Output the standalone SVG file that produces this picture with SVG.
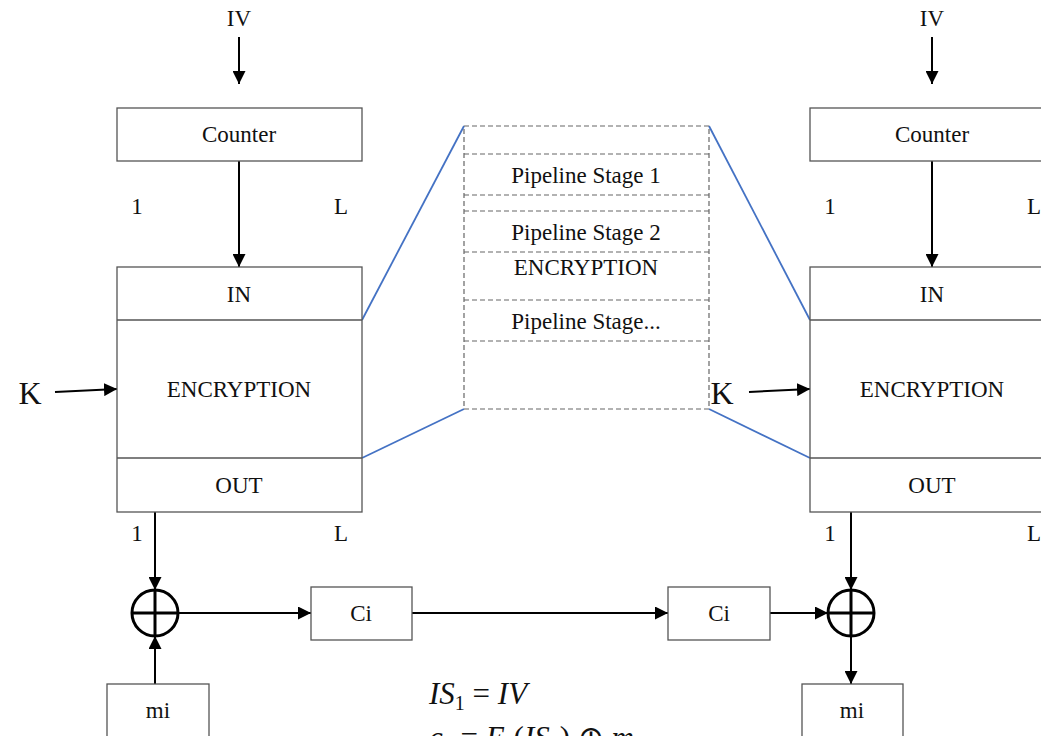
<svg xmlns="http://www.w3.org/2000/svg" width="1041" height="736" viewBox="0 0 1041 736">
<defs>
<style>
.box{fill:#fff;stroke:#555;stroke-width:1.3}
.t{font-family:"Liberation Serif","Times New Roman",serif;font-size:23px;fill:#111;text-anchor:middle;dominant-baseline:central}
.k{font-family:"Liberation Serif","Times New Roman",serif;font-size:32px;fill:#111;text-anchor:middle;dominant-baseline:central}
.eq{font-family:"Liberation Serif","Times New Roman",serif;font-style:italic;font-size:31px;fill:#111}
.ar{stroke:#000;stroke-width:2;fill:none;marker-end:url(#ah)}
.ln{stroke:#000;stroke-width:3;fill:none}
.dash{fill:none;stroke:#666;stroke-width:1.2;stroke-dasharray:5 3}
.blue{stroke:#4472C4;stroke-width:1.8;fill:none}
.xor{fill:#fff;stroke:#000;stroke-width:3}
</style>
<marker id="ah" viewBox="0 0 13 13" refX="13" refY="6.5" markerWidth="13" markerHeight="13" markerUnits="userSpaceOnUse" orient="auto">
<path d="M0,0 L13,6.5 L0,13 Z" fill="#000"/>
</marker>
</defs>
<rect width="1041" height="736" fill="#fff"/>

<g id="connectors">
<line class="ar" x1="239" y1="37" x2="239" y2="84"/>
<line class="ar" x1="239" y1="161" x2="239" y2="267"/>
<line class="ar" x1="55" y1="392" x2="117" y2="389"/>
<line class="ar" x1="155" y1="512" x2="155" y2="590"/>
<line class="ar" x1="155" y1="684" x2="155" y2="636"/>
<line class="ar" x1="178" y1="613" x2="311" y2="613"/>
<line class="ar" x1="412" y1="613" x2="668" y2="613"/>
<line class="ar" x1="770" y1="613" x2="828" y2="613"/>
<line class="ar" x1="932" y1="37" x2="932" y2="84"/>
<line class="ar" x1="932" y1="161" x2="932" y2="267"/>
<line class="ar" x1="749" y1="392" x2="810" y2="389"/>
<line class="ar" x1="851" y1="512" x2="851" y2="590"/>
<line class="ar" x1="851" y1="636" x2="851" y2="684"/>
<line class="blue" x1="362" y1="320" x2="464" y2="126"/>
<line class="blue" x1="362" y1="458" x2="464" y2="409"/>
<line class="blue" x1="709" y1="126" x2="810" y2="320"/>
<line class="blue" x1="709" y1="409" x2="810" y2="458"/>
</g>

<g id="iv-left"><text class="t" x="239" y="18">IV</text></g>
<g id="counter-left">
<rect class="box" x="117" y="108" width="245" height="53"/>
<text class="t" x="239" y="134">Counter</text>
</g>
<g id="labels-left">
<text class="t" x="137" y="206">1</text>
<text class="t" x="341" y="206">L</text>
<text class="t" x="137" y="533">1</text>
<text class="t" x="341" y="533">L</text>
</g>
<g id="enc-left">
<rect class="box" x="117" y="267" width="245" height="245"/>
<line class="box" x1="117" y1="320" x2="362" y2="320"/>
<line class="box" x1="117" y1="458" x2="362" y2="458"/>
<text class="t" x="239" y="294">IN</text>
<text class="t" x="239" y="389">ENCRYPTION</text>
<text class="t" x="239" y="485">OUT</text>
</g>
<g id="k-left"><text class="k" x="30" y="393">K</text></g>
<g id="xor-left">
<circle class="xor" cx="155" cy="613" r="23"/>
<line class="ln" x1="132" y1="613" x2="178" y2="613"/>
<line class="ln" x1="155" y1="590" x2="155" y2="636"/>
</g>
<g id="mi-left">
<rect class="box" x="107" y="684" width="102" height="70"/>
<text class="t" x="158" y="710">mi</text>
</g>
<g id="ci-1">
<rect class="box" x="311" y="587" width="101" height="53"/>
<text class="t" x="361" y="613">Ci</text>
</g>
<g id="ci-2">
<rect class="box" x="668" y="587" width="102" height="53"/>
<text class="t" x="719" y="613">Ci</text>
</g>

<g id="pipeline">
<rect class="dash" x="464" y="126" width="245" height="283"/>
<line class="dash" x1="464" y1="154" x2="709" y2="154"/>
<line class="dash" x1="464" y1="195" x2="709" y2="195"/>
<line class="dash" x1="464" y1="211" x2="709" y2="211"/>
<line class="dash" x1="464" y1="252" x2="709" y2="252"/>
<line class="dash" x1="464" y1="300" x2="709" y2="300"/>
<line class="dash" x1="464" y1="341" x2="709" y2="341"/>
<text class="t" x="586" y="175">Pipeline Stage 1</text>
<text class="t" x="586" y="232">Pipeline Stage 2</text>
<text class="t" x="586" y="267">ENCRYPTION</text>
<text class="t" x="586" y="321">Pipeline Stage...</text>
</g>

<g id="iv-right"><text class="t" x="932" y="18">IV</text></g>
<g id="counter-right">
<rect class="box" x="810" y="108" width="245" height="53"/>
<text class="t" x="932" y="134">Counter</text>
</g>
<g id="labels-right">
<text class="t" x="830" y="206">1</text>
<text class="t" x="1034" y="206">L</text>
<text class="t" x="830" y="533">1</text>
<text class="t" x="1034" y="533">L</text>
</g>
<g id="enc-right">
<rect class="box" x="810" y="267" width="245" height="245"/>
<line class="box" x1="810" y1="320" x2="1055" y2="320"/>
<line class="box" x1="810" y1="458" x2="1055" y2="458"/>
<text class="t" x="932" y="294">IN</text>
<text class="t" x="932" y="389">ENCRYPTION</text>
<text class="t" x="932" y="485">OUT</text>
</g>
<g id="k-right"><text class="k" x="722" y="393">K</text></g>
<g id="xor-right">
<circle class="xor" cx="851" cy="613" r="23"/>
<line class="ln" x1="828" y1="613" x2="874" y2="613"/>
<line class="ln" x1="851" y1="590" x2="851" y2="636"/>
</g>
<g id="mi-right">
<rect class="box" x="802" y="684" width="101" height="70"/>
<text class="t" x="852" y="710">mi</text>
</g>

<g id="equations">
<text class="eq" x="429" y="704">IS<tspan font-style="normal" font-size="20" dy="6">1</tspan><tspan font-style="normal" dy="-6"> = </tspan>IV</text>
<text class="eq" x="429" y="748">c<tspan font-style="normal" font-size="20" dy="6">1</tspan><tspan font-style="normal" dy="-6"> = </tspan>E<tspan font-size="20" dy="6">k</tspan><tspan font-style="normal" dy="-6">(</tspan>IS<tspan font-style="normal" font-size="20" dy="6">1</tspan><tspan font-style="normal" dy="-6">) ⊕ </tspan>m<tspan font-size="20" dy="6">1</tspan></text>
</g>
</svg>
